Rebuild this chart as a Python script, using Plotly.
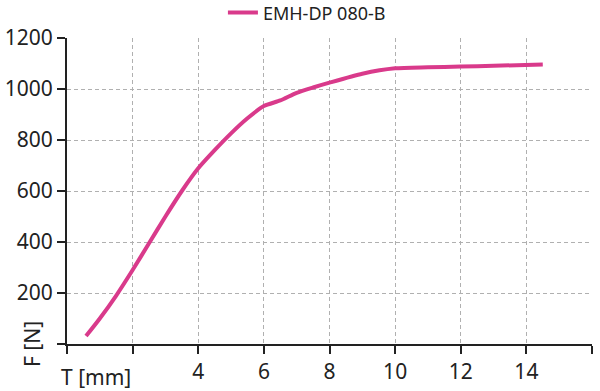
import plotly.graph_objects as go

series_name = "EMH-DP 080-B"
T_mm = [0.58, 1.0, 1.5, 2.0, 2.5, 3.0, 3.5, 4.0, 4.5, 5.0, 5.5, 6.0, 6.5, 7.0, 7.5, 8.0, 9.0, 10.0, 11.0, 12.0, 13.0, 14.5]
F_N = [31, 100, 190, 290, 395, 500, 600, 689, 760, 826, 885, 933, 955, 985, 1006, 1025, 1060, 1081, 1085, 1088, 1091, 1096]
x_ticks = [0, 2, 4, 6, 8, 10, 12, 14, 16]
x_ticktext = ["", "", "4", "6", "8", "10", "12", "14", "16"]
y_ticks = [0, 200, 400, 600, 800, 1000, 1200]
y_ticktext = ["", "200", "400", "600", "800", "1000", "1200"]

color = "#d93a8b"
font = "Noto Sans, sans-serif"
fsize = 21

fig = go.Figure()
fig.add_trace(go.Scatter(x=T_mm, y=F_N, mode="lines", name=series_name,
                         line=dict(color=color, width=4, shape="spline", smoothing=0.6)))

axis_common = dict(showline=True, linecolor="#222", linewidth=2, ticks="outside",
                   tickcolor="#222", tickwidth=2, ticklen=8,
                   showgrid=True, gridcolor="#b0b0b0", griddash="4px,3px", gridwidth=1,
                   zeroline=False, tickfont=dict(size=fsize, color="#222", family=font))

fig.update_layout(
    width=600, height=391,
    margin=dict(l=67, r=8, t=38, b=47, autoexpand=False),
    paper_bgcolor="white", plot_bgcolor="white",
    font=dict(family=font, color="#222"),
    showlegend=True,
    legend=dict(orientation="h", x=0.297, xanchor="left", y=1.082, yanchor="middle",
                font=dict(size=18, color="#222", family=font), itemwidth=30,
                bgcolor="rgba(0,0,0,0)"),
    xaxis=dict(range=[0, 16], tickmode="array", tickvals=x_ticks, ticktext=x_ticktext,
               **axis_common),
    yaxis=dict(range=[0, 1200], tickmode="array", tickvals=y_ticks, ticktext=y_ticktext,
               **axis_common),
)
fig.add_annotation(text="T [mm]", xref="paper", yref="paper", x=0, y=0, xanchor="center",
                   yanchor="middle", xshift=29, yshift=-33, showarrow=False,
                   font=dict(size=fsize, color="#222", family=font))
fig.add_annotation(text="F [N]", xref="paper", yref="paper", x=0, y=0, xanchor="center",
                   yanchor="middle", xshift=-35, yshift=0, textangle=-90, showarrow=False,
                   font=dict(size=fsize, color="#222", family=font))

fig.write_html("out.html", config={"displayModeBar": False},
               post_script="document.body.style.margin='0';")
